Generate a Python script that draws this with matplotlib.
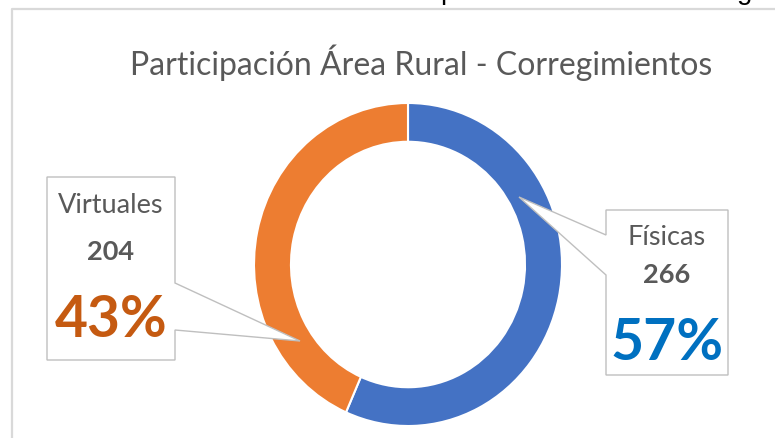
import numpy as np
import matplotlib
matplotlib.use("Agg")
import matplotlib.pyplot as plt
from matplotlib.patches import Polygon

# datos del grafico
categorias = ["Físicas", "Virtuales"]
valores = [266, 204]
colores = ["#4472C4", "#ED7D31"]
colores_pct = ["#0070C0", "#C55A11"]
titulo = "Participación Área Rural - Corregimientos"

plt.rcParams["font.family"] = ["Lato", "DejaVu Sans"]

W, H = 775, 438
fig = plt.figure(figsize=(W / 100, H / 100), dpi=100)
fig.patch.set_facecolor("white")

# %% donut (ligeramente estirado en vertical como la captura)
cx, cy, rx, ry = 408, 264.5, 154, 161.5
ax = fig.add_axes([(cx - rx) / W, (H - cy - ry) / H, 2 * rx / W, 2 * ry / H])
ax.pie(valores, colors=colores, startangle=90, counterclock=False,
       wedgeprops=dict(width=0.24, edgecolor="white", linewidth=1.5))
ax.set_aspect("auto")
ax.set_xlim(-1, 1)
ax.set_ylim(-1, 1)
ax.axis("off")

# %% capa en pixeles para titulo, bordes y etiquetas
ov = fig.add_axes([0, 0, 1, 1], zorder=5)
ov.set_xlim(0, W)
ov.set_ylim(H, 0)
ov.axis("off")
ov.patch.set_alpha(0)

# borde del area del grafico
ov.plot([12, 12, W], [H, 9, 9], color="#D9D9D9", lw=1.6, solid_capstyle="butt")

# restos del texto de arriba (descendentes cortados, como en la captura)
ov.text(448, -1, "p", fontsize=20, color="black", ha="center", va="baseline", family="Liberation Sans")
ov.text(745, -1, "g", fontsize=20, color="black", ha="center", va="baseline", family="Liberation Sans")

ov.text(421, 75, titulo, fontsize=23, color="#595959", ha="center", va="baseline")

# callouts
cajas = {
    "Virtuales": [(47, 177), (175, 177), (175, 283), (300, 341), (175, 330), (175, 360), (47, 360)],
    "Físicas": [(606, 210), (728, 210), (728, 375), (606, 375), (606, 275), (519, 197), (606, 235)],
}
pos_texto = {"Virtuales": (111, 213, 260, 337), "Físicas": (667, 245, 283, 360)}

total = sum(valores)
for cat, val, cpct in zip(categorias, valores, colores_pct):
    ov.add_patch(Polygon(cajas[cat], closed=True, facecolor="white", edgecolor="#BFBFBF", lw=1.0))
    x, y1, y2, y3 = pos_texto[cat]
    ov.text(x, y1, cat, fontsize=19.5, color="#595959", ha="center", va="baseline")
    ov.text(x, y2, f"{val}", fontsize=19.5, color="#595959", ha="center", va="baseline", fontweight="bold")
    ov.text(x, y3, f"{val / total:.0%}", fontsize=41, color=cpct, ha="center", va="baseline", fontweight="bold")

fig.savefig("out.png", dpi=100)
